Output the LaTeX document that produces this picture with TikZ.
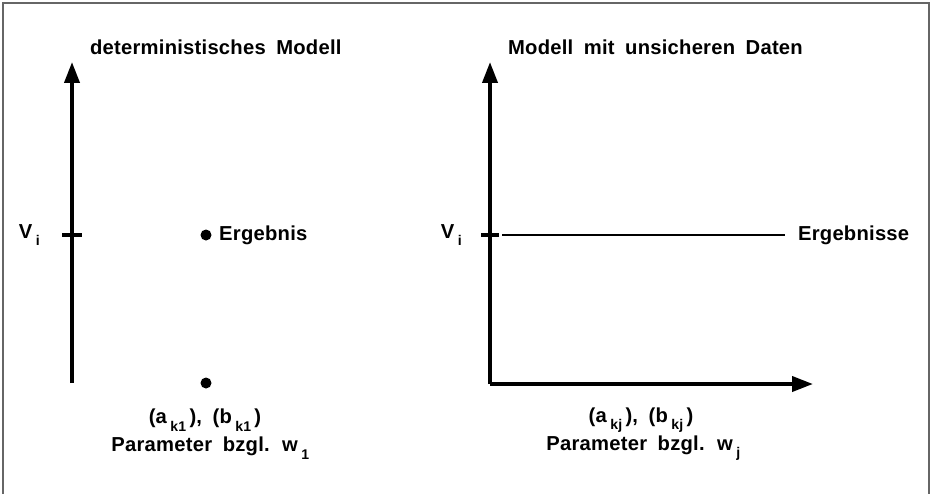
\documentclass[tikz,border=0pt]{standalone}
\usepackage{fontspec}
\setmainfont{Liberation Sans}[WordSpace=1.8, LetterSpace=1.2]
\usepackage{tikz}
\usetikzlibrary{arrows.meta, positioning, calc}

\newcommand{\tief}[1]{\,\raisebox{-0.7ex}{\footnotesize #1}\,}

\begin{document}
\begin{tikzpicture}[x=0.02cm, y=-0.02cm, >={Triangle[length=0.42cm, width=0.3cm]},
    font=\bfseries\fontsize{11.5}{13}\selectfont,
    axis/.style={line width=2.2pt, ->},
    tick/.style={line width=1.8pt},
    label/.style={inner sep=1pt},
    punkt/.style={circle, fill, inner sep=0pt, minimum size=0.22cm}]

        \useasboundingbox (0,0) rectangle (933,494);
        % frame
        \draw[gray!80!black, line width=0.8pt] (3,494) -- (3,3) -- (929,3) -- (929,494);

        % left picture
        \coordinate (o1) at (72,383);
        \coordinate (t1) at (72,62);
        \draw[axis] (o1) -- (t1);
        \coordinate (v1) at (72,235);
        \draw[tick] ($(v1)+(-10,0)$) -- ($(v1)+(10,0)$);
        \node[label] (vi1) at (31,235) {V\tief{i}};
        \node[label, anchor=west] (titel1) at (88,47) {deterministisches Modell};
        \node[punkt] (erg) at (206,235) {};
        \node[label, right=3pt of erg] (ergtext) {Ergebnis};
        \node[punkt] (par1) at (206,383) {};
        \node[label] (ab1) at (205,420) {(a\tief{k1}), (b\tief{k1})};
        \node[label] (pw1) at (212,448) {Parameter bzgl. w\tief{1}};

        % right picture
        \coordinate (o2) at (490,384);
        \coordinate (t2) at (490,62);
        \coordinate (r2) at (813,384);
        \draw[axis] (o2) -- (t2);
        \draw[axis] (o2) -- (r2);
        \coordinate (v2) at (490,235);
        \draw[tick] ($(v2)+(-9,0)$) -- ($(v2)+(9,0)$);
        \node[label] (vi2) at (453,235) {V\tief{i}};
        \node[label, anchor=west] (titel2) at (506,47) {Modell mit unsicheren Daten};
        \node[label, anchor=west] (ergtext2) at (796,235) {Ergebnisse};
        \draw[line width=1pt] ($(v2)+(12,0)$) -- ($(ergtext2.west)+(-11,0)$);
        \node[label] (ab2) at (641,420) {(a\tief{kj}), (b\tief{kj})};
        \node[label] (pw2) at (645,448) {Parameter bzgl. w\tief{j}};

    \end{tikzpicture}
\end{document}
